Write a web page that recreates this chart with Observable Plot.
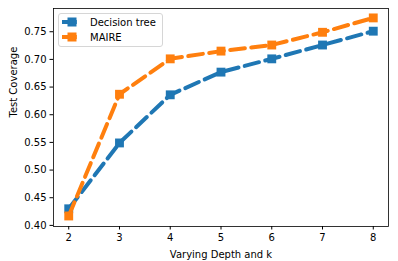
<!DOCTYPE html>
<html>
<head>
<meta charset="utf-8">
<script src="https://cdn.jsdelivr.net/npm/d3@7"></script>
<script src="https://cdn.jsdelivr.net/npm/@observablehq/plot@0.6"></script>
<style>
body{margin:0;background:#fff;}
#wrap{position:relative;width:398px;height:261px;font-family:"DejaVu Sans",sans-serif;}
#legend{position:absolute;left:58px;top:13px;width:103px;height:32px;border:1px solid #d6d6d6;border-radius:3px;background:rgba(255,255,255,0.8);font-size:10px;}
.row{position:absolute;left:0;height:14px;display:flex;align-items:center;}
.row svg{margin-left:3px;}
.row span{position:absolute;left:31px;white-space:nowrap;}
</style>
</head>
<body>
<div id="wrap"></div>
<script>
const depths = [2, 3, 4, 5, 6, 7, 8];
const decisionTree = [0.430, 0.549, 0.636, 0.677, 0.701, 0.726, 0.751];
const maire = [0.417, 0.637, 0.701, 0.715, 0.726, 0.749, 0.775];
const seriesNames = ["Decision tree", "MAIRE"];
const colors = ["#1f77b4", "#ff7f0e"];
const xTicks = [2, 3, 4, 5, 6, 7, 8];
const yTicks = [0.40, 0.45, 0.50, 0.55, 0.60, 0.65, 0.70, 0.75];

const dtData = depths.map((d, i) => ({x: d, y: decisionTree[i], s: seriesNames[0]}));
const maireData = depths.map((d, i) => ({x: d, y: maire[i], s: seriesNames[1]}));

const chart = Plot.plot({
  width: 398, height: 261,
  marginLeft: 53, marginRight: 10, marginTop: 8, marginBottom: 35,
  style: {fontFamily: "DejaVu Sans, sans-serif", fontSize: "10px", color: "#000", background: "#fff"},
  x: {domain: [1.7, 8.3]},
  y: {domain: [0.398, 0.792]},
  color: {domain: seriesNames, range: colors},
  marks: [
    Plot.line(dtData, {x: "x", y: "y", stroke: "s", strokeWidth: 4, strokeDasharray: "14.8 6.4"}),
    Plot.dot(dtData, {x: "x", y: "y", fill: "s", symbol: "square", r: 5, stroke: null}),
    Plot.line(maireData, {x: "x", y: "y", stroke: "s", strokeWidth: 4, strokeDasharray: "14.8 6.4"}),
    Plot.dot(maireData, {x: "x", y: "y", fill: "s", symbol: "square", r: 5, stroke: null}),
    Plot.frame({stroke: "#000", strokeWidth: 0.8}),
    Plot.axisX({ticks: xTicks, tickSize: 3.5, tickPadding: 3.5, tickFormat: d => d, label: null, fontSize: 10}),
    Plot.axisY({ticks: yTicks, tickSize: 3.5, tickPadding: 3.5, tickFormat: d3.format(".2f"), label: null, fontSize: 10}),
    Plot.text(["Varying Depth and k"], {frameAnchor: "bottom", dy: 31, fontSize: 10, fill: "#000"}),
    Plot.text(["Test Coverage"], {frameAnchor: "left", dx: -40, rotate: -90, fontSize: 10, fill: "#000"})
  ]
});
const wrap = document.getElementById("wrap");
wrap.appendChild(chart);

const legend = document.createElement("div");
legend.id = "legend";
seriesNames.forEach((n, i) => {
  const row = document.createElement("div");
  row.className = "row";
  row.style.top = (1 + i * 15.3) + "px";
  row.innerHTML = `<svg width="22" height="14"><line x1="0" x2="20" y1="7" y2="7" stroke="${colors[i]}" stroke-width="4" stroke-dasharray="14.8 6.4"/><rect x="5.5" y="2.5" width="9" height="9" fill="${colors[i]}"/></svg><span>${n}</span>`;
  legend.appendChild(row);
});
wrap.appendChild(legend);
</script>
</body>
</html>
